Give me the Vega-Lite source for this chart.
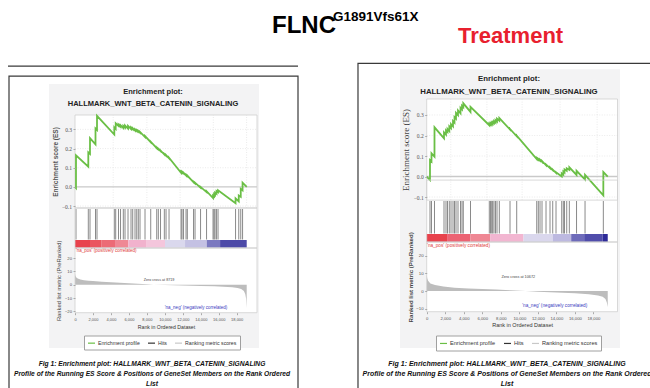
{
  "$schema": "https://vega.github.io/schema/vega-lite/v6.json",
  "width": 650,
  "height": 388,
  "padding": 0,
  "autosize": {"type": "none"},
  "background": "white",
  "config": {"font": "Liberation Sans", "view": {"stroke": null}, "axis": {"zindex": 1}},
  "datasets": {
    "leftEs": [
      {"r":0,"es":0},{"r":110,"es":-0.006},{"r":111,"es":0.165},{"r":1480,"es":0.106},{"r":1481,"es":0.18},{"r":1669,"es":0.172},{"r":1670,"es":0.254},{"r":2282,"es":0.222},{"r":2283,"es":0.305},{"r":2449,"es":0.297},{"r":2450,"es":0.371},{"r":4375,"es":0.273},{"r":4376,"es":0.31},{"r":4530,"es":0.302},{"r":4531,"es":0.332},{"r":4843,"es":0.318},{"r":4844,"es":0.325},{"r":5066,"es":0.314},{"r":5067,"es":0.322},{"r":5378,"es":0.307},{"r":5379,"es":0.318},{"r":5567,"es":0.309},{"r":5568,"es":0.32},{"r":5901,"es":0.304},{"r":5902,"es":0.318},{"r":6235,"es":0.302},{"r":6236,"es":0.31},{"r":6424,"es":0.301},{"r":6425,"es":0.306},{"r":6681,"es":0.294},{"r":6682,"es":0.3},{"r":6870,"es":0.291},{"r":6871,"es":0.296},{"r":7048,"es":0.288},{"r":7049,"es":0.292},{"r":7237,"es":0.283},{"r":7238,"es":0.287},{"r":7794,"es":0.26},{"r":7795,"es":0.265},{"r":8429,"es":0.233},{"r":8430,"es":0.236},{"r":9097,"es":0.202},{"r":9098,"es":0.205},{"r":9275,"es":0.196},{"r":9276,"es":0.199},{"r":9520,"es":0.187},{"r":9521,"es":0.19},{"r":9943,"es":0.169},{"r":9944,"es":0.172},{"r":10133,"es":0.163},{"r":10134,"es":0.166},{"r":10467,"es":0.149},{"r":10468,"es":0.152},{"r":11803,"es":0.074},{"r":11804,"es":0.08},{"r":11914,"es":0.075},{"r":11915,"es":0.079},{"r":12081,"es":0.071},{"r":12082,"es":0.074},{"r":12360,"es":0.06},{"r":12361,"es":0.063},{"r":12505,"es":0.056},{"r":12506,"es":0.059},{"r":13195,"es":0.024},{"r":13196,"es":0.027},{"r":13362,"es":0.019},{"r":13363,"es":0.022},{"r":13975,"es":-0.004},{"r":13976,"es":0},{"r":14643,"es":-0.027},{"r":14644,"es":-0.022},{"r":15366,"es":-0.058},{"r":15367,"es":-0.045},{"r":15478,"es":-0.05},{"r":15479,"es":-0.038},{"r":15589,"es":-0.043},{"r":15590,"es":-0.03},{"r":15756,"es":-0.036},{"r":15757,"es":-0.022},{"r":15923,"es":-0.028},{"r":15924,"es":-0.018},{"r":17872,"es":-0.085},{"r":17873,"es":-0.06},{"r":18228,"es":-0.076},{"r":18229,"es":-0.045},{"r":18451,"es":-0.052},{"r":18452,"es":-0.01},{"r":18652,"es":-0.018},{"r":18653,"es":0.022},{"r":19115,"es":0}
    ],
    "rightEs": [
      {"r":0,"es":0},{"r":355,"es":-0.017},{"r":356,"es":0.08},{"r":517,"es":0.073},{"r":518,"es":0.113},{"r":841,"es":0.097},{"r":842,"es":0.24},{"r":1867,"es":0.186},{"r":1868,"es":0.215},{"r":2083,"es":0.204},{"r":2084,"es":0.225},{"r":2245,"es":0.217},{"r":2246,"es":0.232},{"r":2440,"es":0.222},{"r":2441,"es":0.245},{"r":2623,"es":0.236},{"r":2624,"es":0.255},{"r":2839,"es":0.244},{"r":2840,"es":0.27},{"r":3001,"es":0.262},{"r":3002,"es":0.29},{"r":3163,"es":0.282},{"r":3164,"es":0.31},{"r":3379,"es":0.299},{"r":3380,"es":0.322},{"r":3649,"es":0.308},{"r":3650,"es":0.335},{"r":3811,"es":0.327},{"r":3812,"es":0.345},{"r":3951,"es":0.338},{"r":3952,"es":0.357},{"r":4729,"es":0.315},{"r":4730,"es":0.34},{"r":6759,"es":0.25},{"r":6760,"es":0.258},{"r":6889,"es":0.252},{"r":6890,"es":0.26},{"r":7018,"es":0.254},{"r":7019,"es":0.262},{"r":7126,"es":0.257},{"r":7127,"es":0.266},{"r":7267,"es":0.26},{"r":7268,"es":0.27},{"r":7429,"es":0.263},{"r":7430,"es":0.275},{"r":7591,"es":0.268},{"r":7592,"es":0.282},{"r":7839,"es":0.272},{"r":7840,"es":0.285},{"r":8995,"es":0.229},{"r":8996,"es":0.232},{"r":9718,"es":0.196},{"r":9719,"es":0.199},{"r":11878,"es":0.085},{"r":11879,"es":0.09},{"r":12051,"es":0.082},{"r":12052,"es":0.086},{"r":12234,"es":0.078},{"r":12235,"es":0.082},{"r":12450,"es":0.072},{"r":12451,"es":0.076},{"r":12882,"es":0.055},{"r":12883,"es":0.059},{"r":13314,"es":0.041},{"r":13315,"es":0.044},{"r":13606,"es":0.031},{"r":13607,"es":0.034},{"r":13962,"es":0.018},{"r":13963,"es":0.021},{"r":14578,"es":0},{"r":14579,"es":0.015},{"r":14751,"es":0.009},{"r":14752,"es":0.025},{"r":14880,"es":0.02},{"r":14881,"es":0.035},{"r":15118,"es":0.028},{"r":15119,"es":0.04},{"r":15399,"es":0.032},{"r":15400,"es":0.045},{"r":16176,"es":0.008},{"r":16177,"es":0.028},{"r":17094,"es":-0.015},{"r":17095,"es":0.008},{"r":19070,"es":-0.092},{"r":19071,"es":0.022},{"r":19546,"es":0}
    ],
    "leftHits": [
      {"r":111},{"r":1481},{"r":1670},{"r":2283},{"r":2450},{"r":4376},{"r":4531},{"r":4844},{"r":5067},{"r":5379},{"r":5568},{"r":5902},{"r":6236},{"r":6425},{"r":6682},{"r":6871},{"r":7049},{"r":7238},{"r":7795},{"r":8430},{"r":9098},{"r":9276},{"r":9521},{"r":9944},{"r":10134},{"r":10468},{"r":11804},{"r":11915},{"r":12082},{"r":12361},{"r":12506},{"r":13196},{"r":13363},{"r":13976},{"r":14644},{"r":15367},{"r":15479},{"r":15590},{"r":15757},{"r":15924},{"r":17873},{"r":18229},{"r":18452},{"r":18653}
    ],
    "rightHits": [
      {"r":356},{"r":518},{"r":842},{"r":1868},{"r":2084},{"r":2246},{"r":2441},{"r":2624},{"r":2840},{"r":3002},{"r":3164},{"r":3380},{"r":3650},{"r":3812},{"r":3952},{"r":4730},{"r":6760},{"r":6890},{"r":7019},{"r":7127},{"r":7268},{"r":7430},{"r":7592},{"r":7840},{"r":8996},{"r":9719},{"r":11879},{"r":12052},{"r":12235},{"r":12451},{"r":12883},{"r":13315},{"r":13607},{"r":13963},{"r":14579},{"r":14752},{"r":14881},{"r":15119},{"r":15400},{"r":16177},{"r":17095},{"r":19071}
    ],
    "leftBar": [
      {"s":0,"e":1670,"seg":"p1"},{"s":1670,"e":2970,"seg":"p2"},{"s":2970,"e":4455,"seg":"p3"},{"s":4455,"e":5940,"seg":"p4"},{"s":5940,"e":7980,"seg":"p5"},{"s":7980,"e":10020,"seg":"p6"},{"s":10020,"e":12250,"seg":"n1"},{"s":12250,"e":14665,"seg":"n2"},{"s":14665,"e":16150,"seg":"n3"},{"s":16150,"e":19115,"seg":"n4"}
    ],
    "rightBar": [
      {"s":0,"e":2200,"seg":"p1"},{"s":2200,"e":4700,"seg":"p2"},{"s":4700,"e":6850,"seg":"p3"},{"s":6850,"e":10450,"seg":"p4"},{"s":10450,"e":13600,"seg":"n1"},{"s":13600,"e":15600,"seg":"n2"},{"s":15600,"e":17000,"seg":"n3"},{"s":17000,"e":19000,"seg":"n4"},{"s":19000,"e":19546,"seg":"n5"}
    ],
    "leftMetric": [
      {"r":0,"m":8.5},{"r":40,"m":6.8},{"r":120,"m":5.6},{"r":300,"m":4.6},{"r":600,"m":3.9},{"r":1000,"m":3.4},{"r":1500,"m":3.0},{"r":2000,"m":2.7},{"r":3000,"m":2.2},{"r":4000,"m":1.8},{"r":5000,"m":1.4},{"r":6000,"m":1.05},{"r":7000,"m":0.7},{"r":8000,"m":0.3},{"r":8719,"m":0},{"r":10000,"m":-0.3},{"r":12000,"m":-0.6},{"r":14000,"m":-0.9},{"r":15500,"m":-1.2},{"r":16500,"m":-1.5},{"r":17500,"m":-1.9},{"r":18100,"m":-2.4},{"r":18500,"m":-3.2},{"r":18800,"m":-4.8},{"r":18950,"m":-7},{"r":19050,"m":-10.5},{"r":19115,"m":-17.5}
    ],
    "rightMetric": [
      {"r":0,"m":9.4},{"r":60,"m":7.2},{"r":150,"m":5.8},{"r":400,"m":4.3},{"r":900,"m":3.4},{"r":1800,"m":2.6},{"r":3000,"m":1.9},{"r":4500,"m":1.45},{"r":6000,"m":1.15},{"r":7500,"m":0.8},{"r":9000,"m":0.4},{"r":10672,"m":0},{"r":12000,"m":-0.4},{"r":14000,"m":-0.8},{"r":16000,"m":-1.3},{"r":17500,"m":-1.8},{"r":18500,"m":-2.5},{"r":19000,"m":-3.2},{"r":19300,"m":-4.5},{"r":19450,"m":-6.5},{"r":19546,"m":-9.0}
    ],
    "esGrid": [{"es":-0.1},{"es":0.1},{"es":0.2},{"es":0.3}],
    "leftRankGrid": [{"r":4250},{"r":8000},{"r":11700},{"r":15400},{"r":19100}],
    "rightRankGrid": [{"r":2600},{"r":6500},{"r":10300},{"r":14400},{"r":18400}]
  },
  "layer": [
    {
      "description": "light grey panel behind the left GSEA figure",
      "data": {"values": [{}]},
      "mark": {"type": "rect", "fill": "#f3f3f4"},
      "encoding": {
        "x": {"datum": -2894, "scale": {"domain": [0, 20260], "range": [75, 257], "nice": false, "zero": false}, "axis": null},
        "x2": {"datum": 20483},
        "y": {"datum": 150.4, "scale": {"domain": [-21, 27.5], "range": [312.7, 248], "nice": false, "zero": false}, "axis": null},
        "y2": {"datum": -47.5}
      }
    },
    {
      "description": "light grey panel behind the right GSEA figure",
      "data": {"values": [{}]},
      "mark": {"type": "rect", "fill": "#f3f3f4"},
      "encoding": {
        "x": {"datum": -2883, "scale": {"domain": [0, 20600], "range": [426.7, 617.5], "nice": false, "zero": false}, "axis": null},
        "x2": {"datum": 20870},
        "y": {"datum": 125.3, "scale": {"domain": [-11.7, 27.7], "range": [311.7, 242], "nice": false, "zero": false}, "axis": null},
        "y2": {"datum": -32.2}
      }
    },
    {
      "description": "left slide frame",
      "data": {"values": [{}]},
      "mark": {"type": "rect", "filled": false, "stroke": "#3a3a3a", "strokeWidth": 1.2},
      "encoding": {
        "x": {"datum": -7347, "scale": {"domain": [0, 20260], "range": [75, 257], "nice": false, "zero": false}, "axis": null},
        "x2": {"datum": 24824},
        "y": {"datum": 156.4, "scale": {"domain": [-21, 27.5], "range": [312.7, 248], "nice": false, "zero": false}, "axis": null},
        "y2": {"datum": -86.4}
      }
    },
    {
      "description": "rule above the left frame",
      "data": {"values": [{}]},
      "mark": {"type": "rule", "stroke": "#3a3a3a", "strokeWidth": 1.2},
      "encoding": {
        "x": {"datum": -7458, "scale": {"domain": [0, 20260], "range": [75, 257], "nice": false, "zero": false}, "axis": null},
        "x2": {"datum": 24824},
        "y": {"datum": 163.9, "scale": {"domain": [-21, 27.5], "range": [312.7, 248], "nice": false, "zero": false}, "axis": null}
      }
    },
    {
      "description": "right slide frame",
      "data": {"values": [{}]},
      "mark": {"type": "rect", "filled": false, "stroke": "#3a3a3a", "strokeWidth": 1.2},
      "encoding": {
        "x": {"datum": -7418, "scale": {"domain": [0, 20600], "range": [426.7, 617.5], "nice": false, "zero": false}, "axis": null},
        "x2": {"datum": 29509},
        "y": {"datum": 128.7, "scale": {"domain": [-11.7, 27.7], "range": [311.7, 242], "nice": false, "zero": false}, "axis": null},
        "y2": {"datum": -61.6}
      }
    },
    {
      "description": "white plotting area, left",
      "data": {"values": [{}]},
      "mark": {"type": "rect", "fill": "white"},
      "encoding": {
        "x": {"datum": 0, "scale": {"domain": [0, 20260], "range": [75, 257], "nice": false, "zero": false}, "axis": null},
        "x2": {"datum": 20260},
        "y": {"datum": 127.2, "scale": {"domain": [-21, 27.5], "range": [312.7, 248], "nice": false, "zero": false}, "axis": null},
        "y2": {"datum": -21}
      }
    },
    {
      "description": "white plotting area, right",
      "data": {"values": [{}]},
      "mark": {"type": "rect", "fill": "white"},
      "encoding": {
        "x": {"datum": 0, "scale": {"domain": [0, 20600], "range": [426.7, 617.5], "nice": false, "zero": false}, "axis": null},
        "x2": {"datum": 20600},
        "y": {"datum": 108.5, "scale": {"domain": [-11.7, 27.7], "range": [311.7, 242], "nice": false, "zero": false}, "axis": null},
        "y2": {"datum": -11.7}
      }
    },
    {
      "description": "left ES grid, horizontal",
      "data": {"name": "esGrid"},
      "mark": {"type": "rule", "stroke": "#dedede", "strokeWidth": 0.6, "strokeDash": [1, 1.5]},
      "encoding": {
        "y": {"field": "es", "type": "quantitative", "scale": {"domain": [-0.11, 0.375], "range": [208, 115], "nice": false, "zero": false}, "axis": null},
        "x": {"datum": 0, "scale": {"domain": [0, 20260], "range": [75, 257], "nice": false, "zero": false}, "axis": null},
        "x2": {"datum": 20260}
      }
    },
    {
      "description": "left ES grid, vertical",
      "data": {"name": "leftRankGrid"},
      "mark": {"type": "rule", "stroke": "#dedede", "strokeWidth": 0.6, "strokeDash": [1, 1.5]},
      "encoding": {
        "x": {"field": "r", "type": "quantitative", "scale": {"domain": [0, 20260], "range": [75, 257], "nice": false, "zero": false}, "axis": null},
        "y": {"datum": -0.11, "scale": {"domain": [-0.11, 0.375], "range": [208, 115], "nice": false, "zero": false}, "axis": null},
        "y2": {"datum": 0.375}
      }
    },
    {
      "description": "left ES zero line",
      "data": {"values": [{}]},
      "mark": {"type": "rule", "stroke": "#c9c9c9", "strokeWidth": 1.4},
      "encoding": {
        "y": {"datum": 0, "scale": {"domain": [-0.11, 0.375], "range": [208, 115], "nice": false, "zero": false}, "axis": null},
        "x": {"datum": 0, "scale": {"domain": [0, 20260], "range": [75, 257], "nice": false, "zero": false}, "axis": null},
        "x2": {"datum": 20260}
      }
    },
    {
      "description": "left ES plot border",
      "data": {"values": [{}]},
      "mark": {"type": "rect", "filled": false, "stroke": "#cfcfcf", "strokeWidth": 0.8},
      "encoding": {
        "x": {"datum": 0, "scale": {"domain": [0, 20260], "range": [75, 257], "nice": false, "zero": false}, "axis": null},
        "x2": {"datum": 20260},
        "y": {"datum": -0.11, "scale": {"domain": [-0.11, 0.375], "range": [208, 115], "nice": false, "zero": false}, "axis": null},
        "y2": {"datum": 0.375}
      }
    },
    {
      "description": "left running enrichment score",
      "data": {"name": "leftEs"},
      "mark": {"type": "line", "strokeWidth": 1.8, "interpolate": "linear"},
      "encoding": {
        "x": {"field": "r", "type": "quantitative", "scale": {"domain": [0, 20260], "range": [75, 257], "nice": false, "zero": false}, "axis": null},
        "y": {"field": "es", "type": "quantitative", "scale": {"domain": [-0.11, 0.375], "range": [208, 115], "nice": false, "zero": false},
          "axis": {"orient": "left", "offset": -75, "zindex": 1, "values": [-0.1, 0, 0.1, 0.2, 0.3], "format": ".1f", "labelFont": "Liberation Serif", "labelFontSize": 5.5, "labelColor": "#555", "labelPadding": 1.5, "tickSize": 2, "tickColor": "#aaa", "domain": false, "grid": false, "labelOverlap": false, "labelFlush": false,
            "title": "Enrichment score (ES)", "titleFont": "Liberation Sans", "titleFontWeight": "bold", "titleFontSize": 6.5, "titleColor": "#555", "titlePadding": 3}},
        "color": {"datum": "Enrichment profile", "type": "nominal",
          "scale": {"domain": ["Enrichment profile", "Hits", "Ranking metric scores"], "range": ["#6abf45", "#333333", "#c8c8c8"]},
          "legend": {"orient": "none", "legendX": 84, "legendY": 335.5, "direction": "horizontal", "title": null, "symbolType": "stroke", "symbolSize": 49, "symbolStrokeWidth": 1.2, "labelFont": "Liberation Sans", "labelFontSize": 5.2, "labelColor": "#333", "labelOffset": 2, "columnPadding": 5, "padding": 3, "fillColor": "white", "strokeColor": "#a0a0a0"}}
      }
    },
    {
      "description": "left gene set hits",
      "data": {"name": "leftHits"},
      "mark": {"type": "rule", "stroke": "#3a3a3a", "strokeWidth": 0.6},
      "encoding": {
        "x": {"field": "r", "type": "quantitative", "scale": {"domain": [0, 20260], "range": [75, 257], "nice": false, "zero": false}, "axis": null},
        "y": {"datum": 0, "scale": {"domain": [0, 1], "range": [239.5, 209], "nice": false, "zero": false}, "axis": null},
        "y2": {"datum": 1}
      }
    },
    {
      "description": "left ranked-list colour bar",
      "data": {"name": "leftBar"},
      "mark": {"type": "rect"},
      "encoding": {
        "x": {"field": "s", "type": "quantitative", "scale": {"domain": [0, 20260], "range": [75, 257], "nice": false, "zero": false}, "axis": null},
        "x2": {"field": "e"},
        "y": {"datum": 0, "scale": {"domain": [0, 1], "range": [247.7, 240], "nice": false, "zero": false}, "axis": null},
        "y2": {"datum": 1},
        "color": {"field": "seg", "type": "nominal", "legend": null,
          "scale": {"domain": ["p1","p2","p3","p4","p5","p6","n1","n2","n3","n4"], "range": ["#e8424c","#ea5660","#ec6b76","#ef8894","#f1b2cd","#f4c6dc","#dad8ed","#c4c1e3","#7b79c0","#4d4aa8"]}}
      }
    },
    {
      "description": "left hits panel border",
      "data": {"values": [{}]},
      "mark": {"type": "rect", "filled": false, "stroke": "#cfcfcf", "strokeWidth": 0.8},
      "encoding": {
        "x": {"datum": 0, "scale": {"domain": [0, 20260], "range": [75, 257], "nice": false, "zero": false}, "axis": null},
        "x2": {"datum": 20260},
        "y": {"datum": 27.5, "scale": {"domain": [-21, 27.5], "range": [312.7, 248], "nice": false, "zero": false}, "axis": null},
        "y2": {"datum": 57.5}
      }
    },
    {
      "description": "left ranked list metric",
      "data": {"name": "leftMetric"},
      "mark": {"type": "area", "fill": "#bdbdbd", "interpolate": "linear"},
      "encoding": {
        "x": {"field": "r", "type": "quantitative", "scale": {"domain": [0, 20260], "range": [75, 257], "nice": false, "zero": false},
          "axis": {"orient": "bottom", "offset": -75.3, "zindex": 1, "values": [0, 2000, 4000, 6000, 8000, 10000, 12000, 14000, 16000, 18000], "format": ",d", "labelFontSize": 4, "labelColor": "#555", "labelPadding": 2.5, "tickSize": 2, "tickColor": "#aaa", "domain": false, "grid": false, "labelOverlap": false, "labelFlush": false,
            "title": "Rank in Ordered Dataset", "titleFontSize": 5.2, "titleFontWeight": "normal", "titleColor": "#333", "titlePadding": 3}},
        "y": {"field": "m", "type": "quantitative", "scale": {"domain": [-21, 27.5], "range": [312.7, 248], "nice": false, "zero": false},
          "axis": {"orient": "left", "offset": -75, "zindex": 1, "values": [-20, -10, 0, 10, 20], "labelFontSize": 4.2, "labelColor": "#555", "labelPadding": 1.5, "tickSize": 2, "tickColor": "#aaa", "domain": false, "grid": false, "labelOverlap": false, "labelFlush": false,
            "title": "Ranked list metric (PreRanked)", "titleFontSize": 5.8, "titleFontWeight": "normal", "titleColor": "#444", "titlePadding": 3}},
        "y2": {"datum": 0}
      }
    },
    {
      "description": "left metric panel border",
      "data": {"values": [{}]},
      "mark": {"type": "rect", "filled": false, "stroke": "#cfcfcf", "strokeWidth": 0.8},
      "encoding": {
        "x": {"datum": 0, "scale": {"domain": [0, 20260], "range": [75, 257], "nice": false, "zero": false}, "axis": null},
        "x2": {"datum": 20260},
        "y": {"datum": -21, "scale": {"domain": [-21, 27.5], "range": [312.7, 248], "nice": false, "zero": false}, "axis": null},
        "y2": {"datum": 27.5}
      }
    },
    {
      "data": {"values": [{}]},
      "mark": {"type": "text", "text": "'na_pos' (positively correlated)", "fontSize": 4.5, "color": "#e03a3a", "align": "left", "baseline": "middle"},
      "encoding": {
        "x": {"datum": 111, "scale": {"domain": [0, 20260], "range": [75, 257], "nice": false, "zero": false}, "axis": null},
        "y": {"datum": 25.0, "scale": {"domain": [-21, 27.5], "range": [312.7, 248], "nice": false, "zero": false}, "axis": null}
      }
    },
    {
      "data": {"values": [{}]},
      "mark": {"type": "text", "text": "Zero cross at 8719", "fontSize": 3.7, "color": "#444", "align": "center", "baseline": "middle"},
      "encoding": {
        "x": {"datum": 9351, "scale": {"domain": [0, 20260], "range": [75, 257], "nice": false, "zero": false}, "axis": null},
        "y": {"datum": 3.5, "scale": {"domain": [-21, 27.5], "range": [312.7, 248], "nice": false, "zero": false}, "axis": null}
      }
    },
    {
      "data": {"values": [{}]},
      "mark": {"type": "text", "text": "'na_neg' (negatively correlated)", "fontSize": 4.5, "color": "#3a3ac0", "align": "center", "baseline": "middle"},
      "encoding": {
        "x": {"datum": 13470, "scale": {"domain": [0, 20260], "range": [75, 257], "nice": false, "zero": false}, "axis": null},
        "y": {"datum": -17.7, "scale": {"domain": [-21, 27.5], "range": [312.7, 248], "nice": false, "zero": false}, "axis": null}
      }
    },
    {
      "data": {"values": [{}]},
      "mark": {"type": "text", "text": ["Enrichment plot:", "HALLMARK_WNT_BETA_CATENIN_SIGNALING"], "fontSize": 7.5, "fontWeight": "bold", "lineHeight": 12.5, "color": "#222", "align": "center", "baseline": "alphabetic"},
      "encoding": {
        "x": {"datum": 8683, "scale": {"domain": [0, 20260], "range": [75, 257], "nice": false, "zero": false}, "axis": null},
        "y": {"datum": 0.487, "scale": {"domain": [-0.11, 0.375], "range": [208, 115], "nice": false, "zero": false}, "axis": null}
      }
    },
    {
      "data": {"values": [{}]},
      "mark": {"type": "text", "text": ["Fig 1: Enrichment plot: HALLMARK_WNT_BETA_CATENIN_SIGNALING", "Profile of the Running ES Score & Positions of GeneSet Members on the Rank Ordered", "List"], "fontSize": 6.7, "fontWeight": "bold", "fontStyle": "italic", "lineHeight": 10, "color": "#111", "align": "center", "baseline": "alphabetic"},
      "encoding": {
        "x": {"datum": 8572, "scale": {"domain": [0, 20260], "range": [75, 257], "nice": false, "zero": false}, "axis": null},
        "y": {"datum": -61.0, "scale": {"domain": [-21, 27.5], "range": [312.7, 248], "nice": false, "zero": false}, "axis": null}
      }
    },
    {
      "description": "right ES grid, horizontal",
      "data": {"name": "esGrid"},
      "mark": {"type": "rule", "stroke": "#dedede", "strokeWidth": 0.6, "strokeDash": [1, 1.5]},
      "encoding": {
        "y": {"field": "es", "type": "quantitative", "scale": {"domain": [-0.115, 0.378], "range": [200.1, 99], "nice": false, "zero": false}, "axis": null},
        "x": {"datum": 0, "scale": {"domain": [0, 20600], "range": [426.7, 617.5], "nice": false, "zero": false}, "axis": null},
        "x2": {"datum": 20600}
      }
    },
    {
      "description": "right ES grid, vertical",
      "data": {"name": "rightRankGrid"},
      "mark": {"type": "rule", "stroke": "#dedede", "strokeWidth": 0.6, "strokeDash": [1, 1.5]},
      "encoding": {
        "x": {"field": "r", "type": "quantitative", "scale": {"domain": [0, 20600], "range": [426.7, 617.5], "nice": false, "zero": false}, "axis": null},
        "y": {"datum": -0.115, "scale": {"domain": [-0.115, 0.378], "range": [200.1, 99], "nice": false, "zero": false}, "axis": null},
        "y2": {"datum": 0.378}
      }
    },
    {
      "description": "right ES zero line",
      "data": {"values": [{}]},
      "mark": {"type": "rule", "stroke": "#c9c9c9", "strokeWidth": 1.4},
      "encoding": {
        "y": {"datum": 0, "scale": {"domain": [-0.115, 0.378], "range": [200.1, 99], "nice": false, "zero": false}, "axis": null},
        "x": {"datum": 0, "scale": {"domain": [0, 20600], "range": [426.7, 617.5], "nice": false, "zero": false}, "axis": null},
        "x2": {"datum": 20600}
      }
    },
    {
      "description": "right ES plot border",
      "data": {"values": [{}]},
      "mark": {"type": "rect", "filled": false, "stroke": "#cfcfcf", "strokeWidth": 0.8},
      "encoding": {
        "x": {"datum": 0, "scale": {"domain": [0, 20600], "range": [426.7, 617.5], "nice": false, "zero": false}, "axis": null},
        "x2": {"datum": 20600},
        "y": {"datum": -0.115, "scale": {"domain": [-0.115, 0.378], "range": [200.1, 99], "nice": false, "zero": false}, "axis": null},
        "y2": {"datum": 0.378}
      }
    },
    {
      "description": "right running enrichment score",
      "data": {"name": "rightEs"},
      "mark": {"type": "line", "strokeWidth": 1.8, "interpolate": "linear"},
      "encoding": {
        "x": {"field": "r", "type": "quantitative", "scale": {"domain": [0, 20600], "range": [426.7, 617.5], "nice": false, "zero": false}, "axis": null},
        "y": {"field": "es", "type": "quantitative", "scale": {"domain": [-0.115, 0.378], "range": [200.1, 99], "nice": false, "zero": false},
          "axis": {"orient": "left", "offset": -426.7, "zindex": 1, "values": [-0.1, 0, 0.1, 0.2, 0.3], "format": ".1f", "labelFont": "Liberation Serif", "labelFontSize": 5.5, "labelColor": "#555", "labelPadding": 1.5, "tickSize": 2, "tickColor": "#aaa", "domain": false, "grid": false, "labelOverlap": false, "labelFlush": false,
            "title": "Enrichment score (ES)", "titleFont": "Liberation Serif", "titleFontWeight": "normal", "titleFontSize": 9, "titleColor": "#444", "titlePadding": 3}},
        "color": {"datum": "Enrichment profile", "type": "nominal",
          "scale": {"domain": ["Enrichment profile", "Hits", "Ranking metric scores"], "range": ["#6abf45", "#333333", "#c8c8c8"]},
          "legend": {"orient": "none", "legendX": 436, "legendY": 335.5, "direction": "horizontal", "title": null, "symbolType": "stroke", "symbolSize": 49, "symbolStrokeWidth": 1.2, "labelFont": "Liberation Sans", "labelFontSize": 5.6, "labelColor": "#333", "labelOffset": 2, "columnPadding": 5, "padding": 3, "fillColor": "white", "strokeColor": "#a0a0a0"}}
      }
    },
    {
      "description": "right gene set hits",
      "data": {"name": "rightHits"},
      "mark": {"type": "rule", "stroke": "#3a3a3a", "strokeWidth": 0.6},
      "encoding": {
        "x": {"field": "r", "type": "quantitative", "scale": {"domain": [0, 20600], "range": [426.7, 617.5], "nice": false, "zero": false}, "axis": null},
        "y": {"datum": 0, "scale": {"domain": [0, 1], "range": [233.5, 201], "nice": false, "zero": false}, "axis": null},
        "y2": {"datum": 1}
      }
    },
    {
      "description": "right ranked-list colour bar",
      "data": {"name": "rightBar"},
      "mark": {"type": "rect"},
      "encoding": {
        "x": {"field": "s", "type": "quantitative", "scale": {"domain": [0, 20600], "range": [426.7, 617.5], "nice": false, "zero": false}, "axis": null},
        "x2": {"field": "e"},
        "y": {"datum": 0, "scale": {"domain": [0, 1], "range": [242, 234], "nice": false, "zero": false}, "axis": null},
        "y2": {"datum": 1},
        "color": {"field": "seg", "type": "nominal", "legend": null,
          "scale": {"domain": ["p1","p2","p3","p4","n1","n2","n3","n4","n5"], "range": ["#e8424c","#ec6373","#ef8794","#f2b6d1","#dad7ed","#bdb9e0","#6e6bba","#504dab","#2e2b98"]}}
      }
    },
    {
      "description": "right hits panel border",
      "data": {"values": [{}]},
      "mark": {"type": "rect", "filled": false, "stroke": "#cfcfcf", "strokeWidth": 0.8},
      "encoding": {
        "x": {"datum": 0, "scale": {"domain": [0, 20600], "range": [426.7, 617.5], "nice": false, "zero": false}, "axis": null},
        "x2": {"datum": 20600},
        "y": {"datum": 27.7, "scale": {"domain": [-11.7, 27.7], "range": [311.7, 242], "nice": false, "zero": false}, "axis": null},
        "y2": {"datum": 62.7}
      }
    },
    {
      "description": "right ranked list metric",
      "data": {"name": "rightMetric"},
      "mark": {"type": "area", "fill": "#bdbdbd", "interpolate": "linear"},
      "encoding": {
        "x": {"field": "r", "type": "quantitative", "scale": {"domain": [0, 20600], "range": [426.7, 617.5], "nice": false, "zero": false},
          "axis": {"orient": "bottom", "offset": -76.3, "zindex": 1, "values": [0, 2000, 4000, 6000, 8000, 10000, 12000, 14000, 16000, 18000], "format": ",d", "labelFontSize": 4.2, "labelColor": "#555", "labelPadding": 2.5, "tickSize": 2, "tickColor": "#aaa", "domain": false, "grid": false, "labelOverlap": false, "labelFlush": false,
            "title": "Rank in Ordered Dataset", "titleFontSize": 5.5, "titleFontWeight": "normal", "titleColor": "#333", "titlePadding": 2.5}},
        "y": {"field": "m", "type": "quantitative", "scale": {"domain": [-11.7, 27.7], "range": [311.7, 242], "nice": false, "zero": false},
          "axis": {"orient": "left", "offset": -426.7, "zindex": 1, "values": [-10, 0, 10, 20], "labelFontSize": 4.4, "labelColor": "#555", "labelPadding": 1.5, "tickSize": 2, "tickColor": "#aaa", "domain": false, "grid": false, "labelOverlap": false, "labelFlush": false,
            "title": "Ranked list metric (PreRanked)", "titleFontSize": 6.1, "titleFontWeight": "bold", "titleColor": "#444", "titlePadding": 2.5}},
        "y2": {"datum": 0}
      }
    },
    {
      "description": "right metric panel border",
      "data": {"values": [{}]},
      "mark": {"type": "rect", "filled": false, "stroke": "#cfcfcf", "strokeWidth": 0.8},
      "encoding": {
        "x": {"datum": 0, "scale": {"domain": [0, 20600], "range": [426.7, 617.5], "nice": false, "zero": false}, "axis": null},
        "x2": {"datum": 20600},
        "y": {"datum": -11.7, "scale": {"domain": [-11.7, 27.7], "range": [311.7, 242], "nice": false, "zero": false}, "axis": null},
        "y2": {"datum": 27.7}
      }
    },
    {
      "data": {"values": [{}]},
      "mark": {"type": "text", "text": "'na_pos' (positively correlated)", "fontSize": 4.7, "color": "#e03a3a", "align": "left", "baseline": "middle"},
      "encoding": {
        "x": {"datum": 32, "scale": {"domain": [0, 20600], "range": [426.7, 617.5], "nice": false, "zero": false}, "axis": null},
        "y": {"datum": 25.4, "scale": {"domain": [-11.7, 27.7], "range": [311.7, 242], "nice": false, "zero": false}, "axis": null}
      }
    },
    {
      "data": {"values": [{}]},
      "mark": {"type": "text", "text": "Zero cross at 10672", "fontSize": 3.8, "color": "#444", "align": "center", "baseline": "middle"},
      "encoding": {
        "x": {"datum": 9890, "scale": {"domain": [0, 20600], "range": [426.7, 617.5], "nice": false, "zero": false}, "axis": null},
        "y": {"datum": 8.1, "scale": {"domain": [-11.7, 27.7], "range": [311.7, 242], "nice": false, "zero": false}, "axis": null}
      }
    },
    {
      "data": {"values": [{}]},
      "mark": {"type": "text", "text": "'na_neg' (negatively correlated)", "fontSize": 4.7, "color": "#3a3ac0", "align": "center", "baseline": "middle"},
      "encoding": {
        "x": {"datum": 13820, "scale": {"domain": [0, 20600], "range": [426.7, 617.5], "nice": false, "zero": false}, "axis": null},
        "y": {"datum": -8.5, "scale": {"domain": [-11.7, 27.7], "range": [311.7, 242], "nice": false, "zero": false}, "axis": null}
      }
    },
    {
      "data": {"values": [{}]},
      "mark": {"type": "text", "text": ["Enrichment plot:", "HALLMARK_WNT_BETA_CATENIN_SIGNALING"], "fontSize": 7.8, "fontWeight": "bold", "lineHeight": 13.5, "color": "#222", "align": "center", "baseline": "alphabetic"},
      "encoding": {
        "x": {"datum": 8886, "scale": {"domain": [0, 20600], "range": [426.7, 617.5], "nice": false, "zero": false}, "axis": null},
        "y": {"datum": 0.468, "scale": {"domain": [-0.115, 0.378], "range": [200.1, 99], "nice": false, "zero": false}, "axis": null}
      }
    },
    {
      "data": {"values": [{}]},
      "mark": {"type": "text", "text": ["Fig 1: Enrichment plot: HALLMARK_WNT_BETA_CATENIN_SIGNALING", "Profile of the Running ES Score & Positions of GeneSet Members on the Rank Ordered", "List"], "fontSize": 7, "fontWeight": "bold", "fontStyle": "italic", "lineHeight": 10, "color": "#111", "align": "center", "baseline": "alphabetic"},
      "encoding": {
        "x": {"datum": 8670, "scale": {"domain": [0, 20600], "range": [426.7, 617.5], "nice": false, "zero": false}, "axis": null},
        "y": {"datum": -42.4, "scale": {"domain": [-11.7, 27.7], "range": [311.7, 242], "nice": false, "zero": false}, "axis": null}
      }
    },
    {
      "data": {"values": [{}]},
      "mark": {"type": "text", "text": "FLNC", "fontSize": 24, "fontWeight": "bold", "color": "#000", "align": "left", "baseline": "alphabetic"},
      "encoding": {
        "x": {"datum": 21930, "scale": {"domain": [0, 20260], "range": [75, 257], "nice": false, "zero": false}, "axis": null},
        "y": {"datum": 188.7, "scale": {"domain": [-21, 27.5], "range": [312.7, 248], "nice": false, "zero": false}, "axis": null}
      }
    },
    {
      "data": {"values": [{}]},
      "mark": {"type": "text", "text": "G1891Vfs61X", "fontSize": 13.5, "fontWeight": "bold", "color": "#000", "align": "left", "baseline": "alphabetic"},
      "encoding": {
        "x": {"datum": 28720, "scale": {"domain": [0, 20260], "range": [75, 257], "nice": false, "zero": false}, "axis": null},
        "y": {"datum": 197.5, "scale": {"domain": [-21, 27.5], "range": [312.7, 248], "nice": false, "zero": false}, "axis": null}
      }
    },
    {
      "data": {"values": [{}]},
      "mark": {"type": "text", "text": "Treatment", "fontSize": 22, "fontWeight": "bold", "color": "#e8202e", "align": "left", "baseline": "alphabetic"},
      "encoding": {
        "x": {"datum": 42636, "scale": {"domain": [0, 20260], "range": [75, 257], "nice": false, "zero": false}, "axis": null},
        "y": {"datum": 180.8, "scale": {"domain": [-21, 27.5], "range": [312.7, 248], "nice": false, "zero": false}, "axis": null}
      }
    }
  ],
  "resolve": {
    "scale": {"x": "independent", "y": "independent", "color": "independent"},
    "axis": {"x": "independent", "y": "independent"},
    "legend": {"color": "independent"}
  }
}
